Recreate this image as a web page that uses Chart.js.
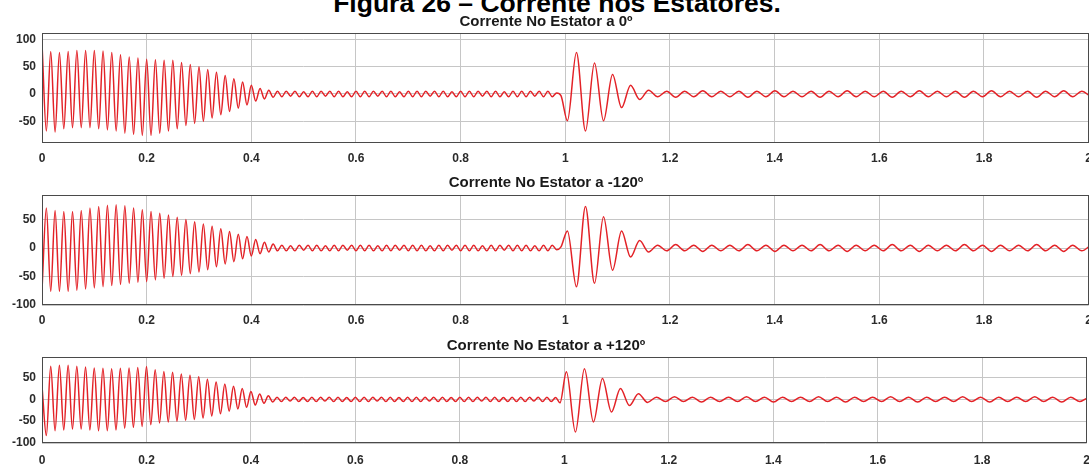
<!DOCTYPE html>
<html>
<head>
<meta charset="utf-8">
<title>Corrente nos Estatores</title>
<script src="https://cdn.jsdelivr.net/npm/chart.js@4.4.1/dist/chart.umd.min.js"></script>
<style>
  html, body { margin: 0; padding: 0; background: #fff; overflow: hidden; }
  #wrap { position: relative; width: 1089px; height: 466px; overflow: hidden; }
  #mainTitle {
    position: absolute; left: 0; top: -12px; width: 1114px; text-align: center;
    font: bold 26.5px "Liberation Sans", Arial, sans-serif; line-height: 30px; color: #000;
  }
  canvas { position: absolute; left: 0; }
</style>
</head>
<body>
<div id="wrap">
  <div id="mainTitle">Figura 26 – Corrente nos Estatores.</div>
  <canvas id="panelA" width="1100" height="164" style="top:9px"></canvas>
  <canvas id="panelB" width="1100" height="163" style="top:172px"></canvas>
  <canvas id="panelC" width="1100" height="131" style="top:335px"></canvas>
</div>
<script>
// picos/vales: até 1 s a cada meio ciclo de 60 Hz, depois de 1 s ~29 Hz
const HALF_PERIOD_1 = 1 / 120;
const START_2 = 1.004;
const HALF_PERIOD_2 = 1 / 58;

const panelTitles = [
  "Corrente No Estator a 0º",
  "Corrente No Estator a -120º",
  "Corrente No Estator a +120º"
];

const xTickValues = [0, 0.2, 0.4, 0.6, 0.8, 1, 1.2, 1.4, 1.6, 1.8, 2];
const yTicksA = [-50, 0, 50, 100];
const yTicksB = [-100, -50, 0, 50];
const yTicksC = [-100, -50, 0, 50];

// estator a 0º
const phaseA1 = [
  92, -68, 78, -70, 76, -64, 78, -62, 80, -62,
  80, -62, 80, -64, 79, -66, 76, -68, 72, -72,
  68, -74, 66, -76, 64, -76, 63, -72, 62, -68,
  62, -64, 58, -58, 54, -54, 50, -50, 45, -44,
  40, -38, 34, -32, 28, -26, 22, -20, 16, -13,
  10, -9, 7, -6,
  5, -5, 5, -4, 5, -5, 4, -5, 5, -5,
  5, -4, 5, -5, 5, -5, 4, -5, 5, -5,
  5, -5, 5, -4, 5, -5, 5, -5, 4, -5,
  5, -5, 5, -5, 5, -4, 5, -5, 5, -5,
  4, -5, 5, -5, 5, -5, 5, -4, 5, -5,
  5, -5, 4, -5, 5, -5, 5, -5, 5, -4,
  5, -5, 5, -5, 2, -3
];
const phaseA2 = [
  -49, 76, -68, 57, -49, 36, -25, 16, -10, 7,
  -5, 5, -6, 5, -5, 6, -5, 5, -5, 5,
  -6, 5, -5, 6, -5, 5, -5, 5, -6, 5,
  -5, 6, -5, 5, -5, 5, -6, 5, -5, 6,
  -5, 5, -5, 5, -6, 5, -5, 6, -5, 5,
  -5, 5, -6, 5, -5, 6, -5, 5, -5
];

// estator a -120º
const phaseB1 = [
  -74, 70, -76, 66, -76, 64, -76, 64, -74, 66,
  -72, 70, -70, 73, -68, 75, -66, 76, -64, 74,
  -62, 70, -60, 67, -59, 64, -56, 61, -53, 58,
  -50, 54, -48, 50, -45, 46, -42, 42, -38, 38,
  -33, 34, -28, 29, -24, 24, -19, 20, -14, 15,
  -10, 10, -7, 7,
  -5, 5, -5, 4, -5, 5, -4, 5, -5, 5,
  -5, 4, -5, 5, -5, 5, -4, 5, -5, 5,
  -5, 5, -5, 4, -5, 5, -5, 5, -4, 5,
  -5, 5, -5, 5, -5, 4, -5, 5, -5, 5,
  -4, 5, -5, 5, -5, 5, -5, 4, -5, 5,
  -5, 5, -4, 5, -5, 5, -5, 5, -5, 4,
  -5, 5, -5, 5, -3, 2
];
const phaseB2 = [
  30, -68, 73, -62, 55, -39, 30, -16, 13, -7,
  5, -5, 6, -5, 5, -6, 5, -5, 5, -5,
  6, -5, 5, -6, 5, -5, 5, -5, 6, -5,
  5, -6, 5, -5, 5, -5, 6, -5, 5, -6,
  5, -5, 5, -5, 6, -5, 5, -6, 5, -5,
  5, -5, 6, -5, 5, -6, 5, -5, 5
];

// estator a +120º
const phaseC1 = [
  30, -83, 76, -72, 78, -70, 78, -68, 76, -68,
  74, -70, 72, -72, 71, -72, 70, -70, 71, -66,
  72, -64, 73, -62, 75, -58, 68, -54, 64, -52,
  62, -50, 58, -48, 55, -46, 52, -43, 46, -38,
  40, -33, 35, -27, 30, -22, 25, -18, 18, -13,
  12, -9, 8, -6,
  5, -5, 5, -4, 5, -5, 4, -5, 5, -5,
  5, -4, 5, -5, 5, -5, 4, -5, 5, -5,
  5, -5, 5, -4, 5, -5, 5, -5, 4, -5,
  5, -5, 5, -5, 5, -4, 5, -5, 5, -5,
  4, -5, 5, -5, 5, -5, 5, -4, 5, -5,
  5, -5, 4, -5, 5, -5, 5, -5, 5, -4,
  5, -5, 5, -5, 4, -8
];
const phaseC2 = [
  63, -75, 70, -52, 48, -29, 25, -14, 13, -7,
  5, -5, 6, -5, 5, -6, 5, -5, 5, -5,
  6, -5, 5, -6, 5, -5, 5, -5, 6, -5,
  5, -6, 5, -5, 5, -5, 6, -5, 5, -6,
  5, -5, 5, -5, 6, -5, 5, -6, 5, -5,
  5, -5, 6, -5, 5, -6, 5, -5, 5
];

const FONT = "'Liberation Sans', Arial, sans-serif";
const LINE_COLOR = "#e32227";
const GRID_COLOR = "#c6c6c6";
const TEXT_COLOR = "#2b2b2b";

function toPoints(seg1, seg2) {
  const points = seg1.map((y, i) => ({ x: i * HALF_PERIOD_1, y }));
  seg2.forEach((y, j) => points.push({ x: START_2 + j * HALF_PERIOD_2, y }));
  return points;
}

const boxPlugin = {
  id: "box",
  afterDraw(chart) {
    const { ctx, chartArea: a } = chart;
    ctx.save();
    ctx.strokeStyle = "#4a4a4a";
    ctx.lineWidth = 1;
    ctx.strokeRect(Math.round(a.left) + 0.5, Math.round(a.top) + 0.5,
      Math.round(a.right - a.left) - 1, Math.round(a.bottom - a.top) - 1);
    ctx.restore();
  }
};

function makePanel(canvasId, title, points, yMin, yMax, yTicks, titlePadding, xPadding, xHeight) {
  const tickFont = { family: FONT, size: 12, weight: "bold" };
  return new Chart(document.getElementById(canvasId), {
    type: "line",
    data: {
      datasets: [{
        data: points,
        borderColor: LINE_COLOR,
        borderWidth: 1.5,
        pointRadius: 0,
        cubicInterpolationMode: "monotone",
        fill: false
      }]
    },
    options: {
      responsive: false,
      animation: false,
      layout: { padding: { left: 0, right: 8, top: 0, bottom: 0 } },
      plugins: {
        legend: { display: false },
        tooltip: { enabled: false },
        title: {
          display: true,
          text: title,
          color: "#1a1a1a",
          font: { family: FONT, size: 15, weight: "bold" },
          padding: titlePadding
        }
      },
      scales: {
        x: {
          type: "linear",
          min: 0,
          max: 2,
          afterBuildTicks: (scale) => { scale.ticks = xTickValues.map((v) => ({ value: v })); },
          afterFit: (scale) => { scale.height = xHeight; },
          grid: { color: GRID_COLOR, drawTicks: false },
          border: { display: false },
          ticks: { padding: xPadding, color: TEXT_COLOR, font: tickFont, maxRotation: 0, callback: (v) => String(v) }
        },
        y: {
          min: yMin,
          max: yMax,
          afterBuildTicks: (scale) => { scale.ticks = yTicks.map((v) => ({ value: v })); },
          afterFit: (scale) => { scale.width = 42; },
          grid: { color: GRID_COLOR, drawTicks: false },
          border: { display: false },
          ticks: { padding: 6, color: TEXT_COLOR, font: tickFont, callback: (v) => String(v) }
        }
      }
    },
    plugins: [boxPlugin]
  });
}

makePanel("panelA", panelTitles[0], toPoints(phaseA1, phaseA2), -90, 112, yTicksA, { top: 4, bottom: 2 }, 8, 30);
makePanel("panelB", panelTitles[1], toPoints(phaseB1, phaseB2), -100, 93, yTicksB, { top: 2, bottom: 3 }, 8, 30);
makePanel("panelC", panelTitles[2], toPoints(phaseC1, phaseC2), -100, 97, yTicksC, { top: 2, bottom: 2 }, 10, 23);
</script>
</body>
</html>
